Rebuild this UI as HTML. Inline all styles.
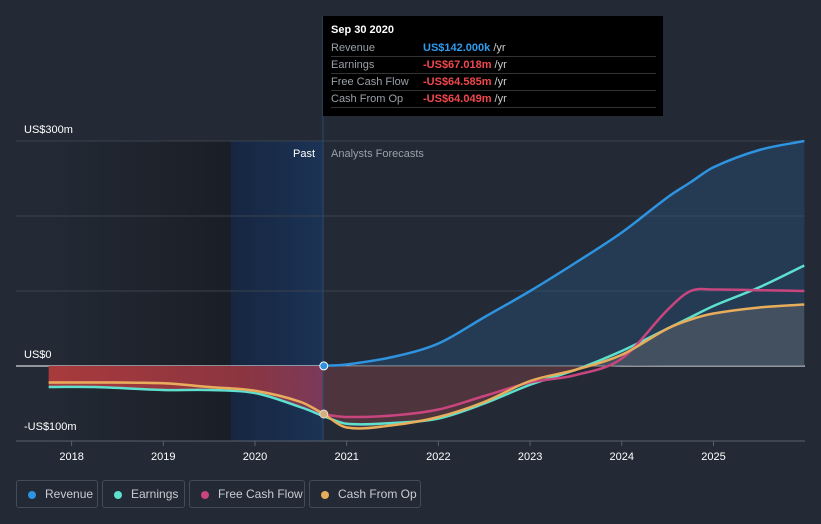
<!DOCTYPE html>
<html><head><meta charset="utf-8"><style>
html,body{margin:0;width:821px;height:524px;overflow:hidden;}
body{background:#232a35;font-family:"Liberation Sans",sans-serif;position:relative;}
#c{position:absolute;left:0;top:0;}
.leg{position:absolute;top:480px;height:28px;border:1px solid #444c58;border-radius:3px;color:#c8ccd2;font-size:12px;line-height:27px;padding:0 0 0 28px;box-sizing:border-box;white-space:nowrap;}
.leg i{position:absolute;left:11px;top:10px;width:8px;height:8px;border-radius:50%;}
#tip{position:absolute;left:323px;top:16px;width:340px;height:100px;background:#000;font-size:11px;color:#9aa0a8;}
#tip .r{position:absolute;left:8px;width:325px;border-bottom:1px solid #333;height:16px;line-height:16px;}
</style></head><body>
<svg id="c" width="821" height="524"></svg>
<div id="tip">
<div style="position:absolute;left:8px;top:8px;color:#fff;font-weight:bold;font-size:11px">Sep 30 2020</div>
<div class="r" style="top:24px">Revenue<span style="position:absolute;left:92px;color:#2e9cf0;font-weight:bold">US$142.000k <span style="color:#ccc;font-weight:normal">/yr</span></span></div>
<div class="r" style="top:41px">Earnings<span style="position:absolute;left:92px;color:#f0484d;font-weight:bold">-US$67.018m <span style="color:#ccc;font-weight:normal">/yr</span></span></div>
<div class="r" style="top:58px">Free Cash Flow<span style="position:absolute;left:92px;color:#f0484d;font-weight:bold">-US$64.585m <span style="color:#ccc;font-weight:normal">/yr</span></span></div>
<div class="r" style="top:75px">Cash From Op<span style="position:absolute;left:92px;color:#f0484d;font-weight:bold">-US$64.049m <span style="color:#ccc;font-weight:normal">/yr</span></span></div>
</div>
<div class="leg" style="left:16px;width:82px"><i style="background:#2e93e0"></i>Revenue</div>
<div class="leg" style="left:102px;width:83px"><i style="background:#5ee0cf"></i>Earnings</div>
<div class="leg" style="left:189px;width:116px"><i style="background:#c8457e"></i>Free Cash Flow</div>
<div class="leg" style="left:309px;width:112px"><i style="background:#e8ad5a"></i>Cash From Op</div>
<script>
const xTicks=[2018,2019,2020,2021,2022,2023,2024,2025];
const yTicks=[300,0,-100];
const pastYears=[2017.75,2018.25,2019,2019.5,2020,2020.5,2020.75];
const pastEarnings=[-28,-28,-32,-32,-36,-55,-67];
const pastCFO=[-22,-22,-23,-28,-33,-48,-64];
const pastFCF=[-22,-22,-23,-28,-33,-48,-64.6];
const fYears=[2020.75,2021,2021.5,2022,2022.5,2023,2023.5,2024,2024.5,2024.75,2025,2025.5,2025.99];
const fRevenue=[0.142,2,12,30,65,100,138,178,225,245,265,288,300];
const fEarnings=[-67,-77,-76,-70,-50,-25,-5,20,50,65,80,105,134];
const fFCF=[-64.6,-68,-66,-58,-40,-22,-12,10,75,100,102,101,100];
const fCFO=[-64,-82,-79,-68,-48,-20,-5,15,50,62,70,78,82];
const X=y=>255+(y-2020)*91.7, Y=v=>366-v*0.75;
const s=document.getElementById('c');const NS='http://www.w3.org/2000/svg';
function el(t,a,p){const e=document.createElementNS(NS,t);for(const k in a)e.setAttribute(k,a[k]);(p||s).appendChild(e);return e;}
const defs=el('defs',{});
defs.innerHTML='<linearGradient id="pg" x1="0" x2="1"><stop offset="0" stop-color="#232a35"/><stop offset="1" stop-color="#1a1e26"/></linearGradient><linearGradient id="hb" x1="0" x2="1"><stop offset="0" stop-color="#162640"/><stop offset="1" stop-color="#1b3355"/></linearGradient><linearGradient id="rf" x1="0" x2="1"><stop offset="0" stop-color="#a83a3c"/><stop offset="0.7" stop-color="#8c3540"/><stop offset="1" stop-color="#7a3a5a"/></linearGradient>';
let r=el('rect',{x:48,y:141,width:183,height:300,fill:'url(#pg)'});
r=el('rect',{x:231,y:141,width:92,height:300,fill:'url(#hb)'});
yTicks.concat([200,100]).forEach(v=>{const l=el('line',{x1:16,x2:805,y1:Y(v),y2:Y(v),stroke:v==0?'#fff':'#3a424e','stroke-width':1});});
el('line',{x1:16,x2:805,y1:441,y2:441,stroke:'#59616c'});
const pts=(xs,vs)=>xs.map((x,i)=>[X(x),Y(vs[i])]);
function path(p){let d='M'+p[0][0]+','+p[0][1];const n=p.length;
for(let i=0;i<n-1;i++){const p0=p[Math.max(0,i-1)],p1=p[i],p2=p[i+1],p3=p[Math.min(n-1,i+2)];
const dx=p2[0]-p1[0];
const s1=(p2[1]-p0[1])/(p2[0]-p0[0]||1), s2=(p3[1]-p1[1])/(p3[0]-p1[0]||1);
d+=' C'+(p1[0]+dx/3)+','+(p1[1]+s1*dx/3)+' '+(p2[0]-dx/3)+','+(p2[1]-s2*dx/3)+' '+p2[0]+','+p2[1];}
return d;}
function area(xs,vs,fill,name){const p=pts(xs,vs);const a=el('path',{d:path(p)+' L'+p[p.length-1][0]+','+Y(0)+' L'+p[0][0]+','+Y(0)+'Z',fill:fill});}
area(pastYears,pastEarnings,'url(#rf)','past-loss-area');
area(fYears,fRevenue,'rgba(40,80,120,0.45)','revenue-area');
area(fYears,fCFO,'rgba(120,120,120,0.35)','cfo-area');
const neg=fYears.map((y,i)=>Math.min(0,fCFO[i]));area(fYears,neg,'rgba(90,40,50,0.55)','forecast-loss-area');
function line(xs,vs,c,name){const l=el('path',{d:path(pts(xs,vs)),fill:'none',stroke:c,'stroke-width':2.5});}
line(pastYears,pastEarnings,'#5ee0cf','earnings-past-line');
line(pastYears,pastFCF,'#c8457e','fcf-past-line');
line(pastYears,pastCFO,'#e8ad5a','cfo-past-line');
line(fYears,fRevenue,'#2e93e0','revenue-line');
line(fYears,fEarnings,'#5ee0cf','earnings-line');
line(fYears,fFCF,'#c8457e','fcf-line');
line(fYears,fCFO,'#e8ad5a','cfo-line');
el('line',{x1:323,x2:323,y1:16,y2:441,stroke:'#2a4a70'});
let c=el('circle',{cx:X(2020.75),cy:Y(0.142),r:4,fill:'#2e93e0',stroke:'#fff','stroke-width':1});
c=el('circle',{cx:X(2020.75),cy:Y(-64),r:4,fill:'#d6b07a',stroke:'#ddd','stroke-width':1});
function txt(x,y,t,o){const e=el('text',Object.assign({x:x,y:y,fill:'#fff','font-size':11,'font-family':'Liberation Sans, sans-serif'},o||{}));e.textContent=t;return e;}
const yl=['US$300m','US$0','-US$100m'];
yTicks.forEach((v,i)=>{const t=txt(24,Y(v)-8+(v<0?-3:0),yl[i]);});
xTicks.forEach(y=>{el('line',{x1:X(y),x2:X(y),y1:441,y2:446,stroke:'#59616c'});const t=txt(X(y),460,String(y),{'text-anchor':'middle'});});
let t=txt(315,157,'Past',{'text-anchor':'end'});
t=txt(331,157,'Analysts Forecasts',{fill:'#9aa0a8'});
</script>
</body></html>
